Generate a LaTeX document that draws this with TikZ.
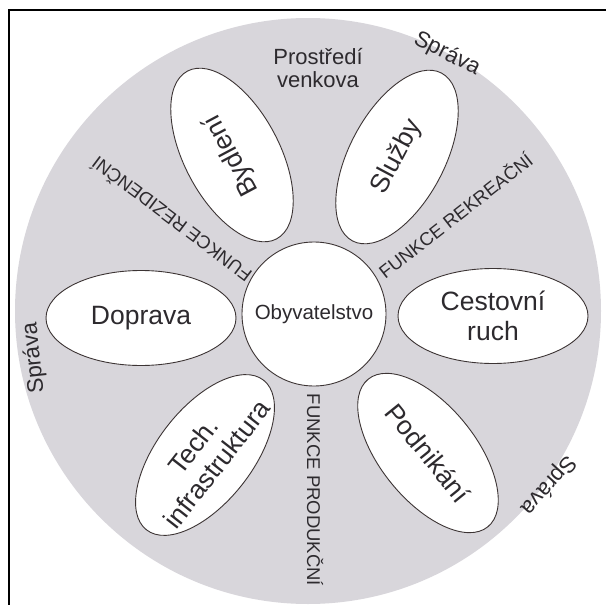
\documentclass[tikz,border=0pt]{standalone}
\usepackage{fontspec}
\setmainfont{Liberation Sans}
\usetikzlibrary{shapes.geometric}
\definecolor{discgrey}{RGB}{216,214,219}
\definecolor{inkcol}{RGB}{45,42,46}
\definecolor{edgecol}{RGB}{60,52,52}
\tikzset{
  petal/.style={ellipse, draw=edgecol, line width=0.9pt, fill=white,
    minimum width=190pt, minimum height=95pt, inner sep=0pt},
  petaltext/.style={text=inkcol, font=\fontsize{26.5}{30}\selectfont, align=center, inner sep=0pt},
  functext/.style={text=inkcol, font=\fontsize{18.5}{20}\selectfont, inner sep=0pt},
  spravatext/.style={text=inkcol, font=\fontsize{22.5}{24}\selectfont, inner sep=0pt},
  prosttext/.style={text=inkcol, font=\fontsize{22}{23}\selectfont, inner sep=0pt, anchor=base},
}
\begin{document}
\begin{tikzpicture}[x=1pt,y=-1pt]
\useasboundingbox (0,0) rectangle (606,605);
\fill[white] (0,0) rectangle (606,605);
% big disc
\node[circle, fill=discgrey, minimum size=586pt, inner sep=0pt] (disc) at (308,311) {};
% frame
\coordinate (frameBL) at (9,606);
\coordinate (frameTL) at (9,10);
\coordinate (frameTR) at (607,10);
\draw[line width=2.6pt, black] (frameBL) -- (frameTL) -- (frameTR);
% petals
\node[petal] (doprava) at (141,318) {};
\node[petal] (cestovni) at (493,316) {};
\node[petal, rotate=118] (bydleni) at (232,155) {};
\node[petal, rotate=62] (sluzby) at (397,157) {};
\node[petal, rotate=52] (tech) at (205,455) {};
\node[petal, rotate=-51] (podnikani) at (428,453) {};
\node[petaltext] (dopravaT) at (doprava.center) {Doprava};
\node[petaltext] (cestovniT) at (cestovni.center) {Cestovní\\ruch};
\node[petaltext, rotate=118] (bydleniT) at (bydleni.center) {Bydlení};
\node[petaltext, rotate=62] (sluzbyT) at (sluzby.center) {Služby};
\node[petaltext, rotate=52] (techT) at (tech.center) {Tech.\\infrastruktura};
\node[petaltext, rotate=-51] (podnikaniT) at (podnikani.center) {Podnikání};
% centre
\node[circle, draw=edgecol, line width=0.9pt, fill=white, minimum size=144pt, inner sep=0pt,
  text=inkcol, font=\fontsize{20.5}{22}\selectfont] (core) at (314,314) {Obyvatelstvo};
% functions
\node[functext, rotate=143] (funRez) at (171,220) {FUNKCE REZIDENČNÍ};
\node[functext, rotate=38] (funRek) at (455,215) {FUNKCE REKREAČNÍ};
\node[functext, rotate=-90] (funProd) at (315,490) {FUNKCE PRODUKČNÍ};
% environment
\node[prosttext] (prost1) at (318,64) {Prostředí};
\node[prosttext] (prost2) at (318,87) {venkova};
% administration
\node[spravatext, rotate=-27] (sprTop) at (447,54) {Správa};
\node[spravatext, rotate=96] (sprLeft) at (34,358) {Správa};
\node[spravatext, rotate=228] (sprBR) at (548,485) {Správa};
\end{tikzpicture}
\end{document}
